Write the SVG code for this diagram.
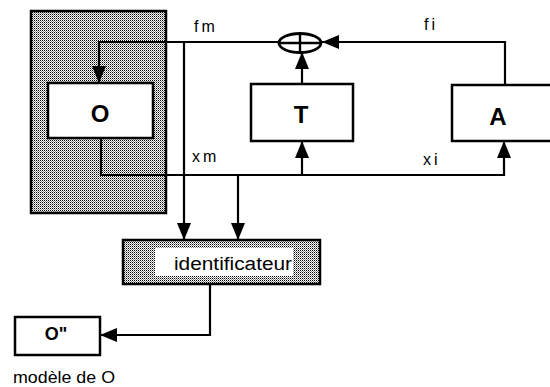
<svg xmlns="http://www.w3.org/2000/svg" width="550" height="387" viewBox="0 0 550 387">
<defs>
  <pattern id="dots" width="2" height="2" patternUnits="userSpaceOnUse">
    <rect width="2" height="2" fill="#ffffff"/>
    <rect width="1" height="1" fill="#000000"/>
    <rect x="1" y="1" width="1" height="1" fill="#8a8a8a"/>
  </pattern>
  <marker id="arr" viewBox="0 0 17 14" refX="17" refY="7" markerWidth="17" markerHeight="14" markerUnits="userSpaceOnUse" orient="auto">
    <path d="M0,0 L17,7 L0,14 z" fill="#000"/>
  </marker>
  <style>
    .box{fill:#fff;stroke:#000;stroke-width:2.5}
    .shade{fill:url(#dots);stroke:#000;stroke-width:2.5}
    .ln{fill:none;stroke:#000;stroke-width:2.2}
    .big{font-family:"Liberation Sans",Arial,sans-serif;font-weight:bold;font-size:24px;text-anchor:middle;fill:#000}
    .lbl{font-family:"Liberation Sans",Arial,sans-serif;font-size:16px;letter-spacing:3px;fill:#000}
    .txt{font-family:"Liberation Sans",Arial,sans-serif;fill:#000}
  </style>
</defs>
<g id="systeme">
  <rect class="shade" x="31" y="11" width="135" height="202"/>
</g>
<g id="node-O">
  <rect class="box" x="48" y="83" width="105" height="55"/>
  <text class="big" x="100" y="122">O</text>
</g>
<g id="node-T">
  <rect class="box" x="251" y="84" width="102" height="57"/>
  <text class="big" x="301" y="123">T</text>
</g>
<g id="node-A">
  <rect class="box" x="452" y="85" width="102" height="56"/>
  <text class="big" x="498" y="125">A</text>
</g>
<g id="node-sum">
  <ellipse cx="300" cy="43" rx="21" ry="9.5" fill="#fff" stroke="#000" stroke-width="2.8"/>
  <line x1="279" y1="43" x2="321" y2="43" stroke="#000" stroke-width="2.4"/>
  <line x1="300" y1="34" x2="300" y2="52" stroke="#000" stroke-width="2.4"/>
</g>
<g id="node-identificateur">
  <rect class="shade" x="123" y="240" width="197" height="44"/>
  <rect x="155" y="248" width="138" height="28" fill="#fff"/>
  <text class="txt" x="174" y="270" font-size="18" textLength="118" lengthAdjust="spacingAndGlyphs">identificateur</text>
</g>
<g id="node-Omodel">
  <rect class="box" x="15" y="317" width="85" height="38"/>
  <text class="txt" x="56" y="340" font-size="18" font-weight="bold" text-anchor="middle">O"</text>
  <text class="txt" x="13" y="383" font-size="17" textLength="102" lengthAdjust="spacingAndGlyphs">modèle de O</text>
</g>
<g id="connectors">
  <path class="ln" d="M279,42 H99 V83" marker-end="url(#arr)"/>
  <path class="ln" d="M184,42 V240" marker-end="url(#arr)"/>
  <path class="ln" d="M101,138 V175 H504 V141" marker-end="url(#arr)"/>
  <path class="ln" d="M302,175 V141" marker-end="url(#arr)"/>
  <path class="ln" d="M238,175 V240" marker-end="url(#arr)"/>
  <path class="ln" d="M302,84 V52" marker-end="url(#arr)"/>
  <path class="ln" d="M505,85 V42 H322" marker-end="url(#arr)"/>
  <path class="ln" d="M210,284 V335 H100" marker-end="url(#arr)"/>
  <text class="lbl" x="194" y="32">fm</text>
  <text class="lbl" x="192" y="162">xm</text>
  <text class="lbl" x="424" y="30">fi</text>
  <text class="lbl" x="423" y="165">xi</text>
</g>
</svg>
